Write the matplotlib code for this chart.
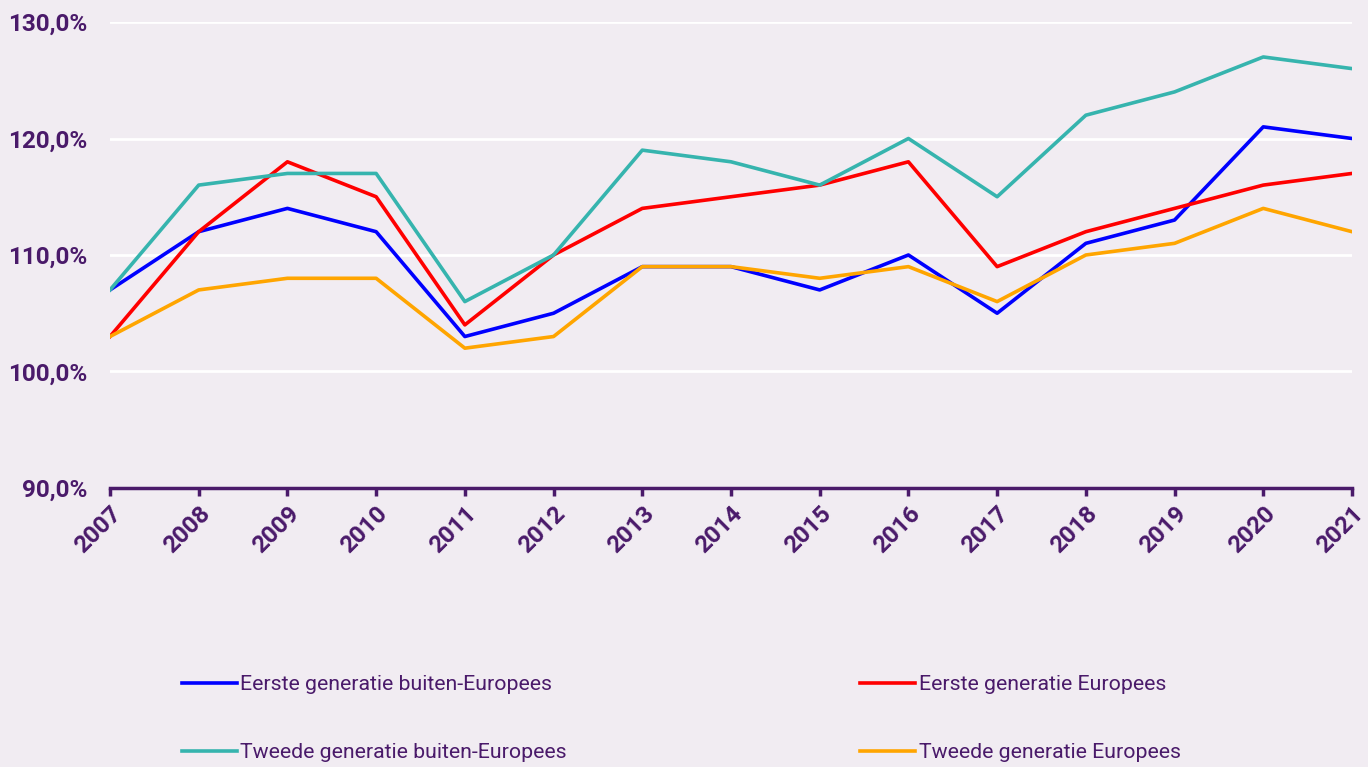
'''
Line chart of relative index per migration background group, 2007-2021.
'''

import matplotlib
matplotlib.use("Agg")
import matplotlib.pyplot as plt
from matplotlib.ticker import FuncFormatter

# Data

years = list(range(2007, 2022))
eerste_buiten = [107, 112, 114, 112, 103, 105, 109, 109, 107, 110, 105, 111, 113, 121, 120]
eerste_europees = [103, 112, 118, 115, 104, 110, 114, 115, 116, 118, 109, 112, 114, 116, 117]
tweede_buiten = [107, 116, 117, 117, 106, 110, 119, 118, 116, 120, 115, 122, 124, 127, 126]
tweede_europees = [103, 107, 108, 108, 102, 103, 109, 109, 108, 109, 106, 110, 111, 114, 112]

labels = [
    "Eerste generatie buiten-Europees",
    "Eerste generatie Europees",
    "Tweede generatie buiten-Europees",
    "Tweede generatie Europees",
]
y_ticks = [90, 100, 110, 120, 130]

# Style

BG = "#F1ECF2"
TEXT = "#4A1A6A"
colors = ["#0000FF", "#FF0000", "#36B4AE", "#FFA500"]

plt.rcParams["font.family"] = ["Roboto", "DejaVu Sans"]

fig = plt.figure(figsize=(13.68, 7.67), dpi=100, facecolor=BG)
ax = fig.add_axes([0.0804, 0.3638, 0.9079, 0.6075], facecolor=BG)

series = [eerste_buiten, eerste_europees, tweede_buiten, tweede_europees]
lines = []
for values, color, label in zip(series, colors, labels):
    ln, = ax.plot(years, values, color=color, lw=2.6, label=label, zorder=3)
    lines.append(ln)

ax.set_xlim(2007, 2021)
ax.set_ylim(90, 130)
ax.set_yticks(y_ticks)
ax.yaxis.set_major_formatter(FuncFormatter(lambda v, p: f"{v:.1f}%".replace(".", ",")))
ax.set_xticks(years)
ax.set_xticklabels([str(y) for y in years], rotation=45, ha="right",
                   rotation_mode="anchor")

ax.grid(axis="y", color="white", lw=2, zorder=0)
for side in ["top", "right", "left"]:
    ax.spines[side].set_visible(False)
ax.spines["bottom"].set_color(TEXT)
ax.spines["bottom"].set_linewidth(2.5)
ax.spines["bottom"].set_zorder(4)

ax.tick_params(axis="y", length=0, pad=16, labelsize=17.5, labelcolor=TEXT)
ax.tick_params(axis="x", length=6, width=2.5, color=TEXT, pad=4,
               labelsize=17.5, labelcolor=TEXT)
for lbl in ax.get_xticklabels() + ax.get_yticklabels():
    lbl.set_fontweight("bold")

# legend fills column-wise, so reorder to get rows: first gen / second gen
order = [0, 2, 1, 3]
fig.legend(
    [lines[i] for i in order],
    [labels[i] for i in order],
    loc="upper left",
    bbox_to_anchor=(0.119, 0.1447),
    bbox_transform=fig.transFigure,
    ncol=2,
    frameon=False,
    fontsize=15.3,
    labelcolor=TEXT,
    handlelength=2.6,
    handletextpad=0.15,
    labelspacing=2.32,
    columnspacing=13.8,
)

fig.savefig("out.png", dpi=100, facecolor=BG)
